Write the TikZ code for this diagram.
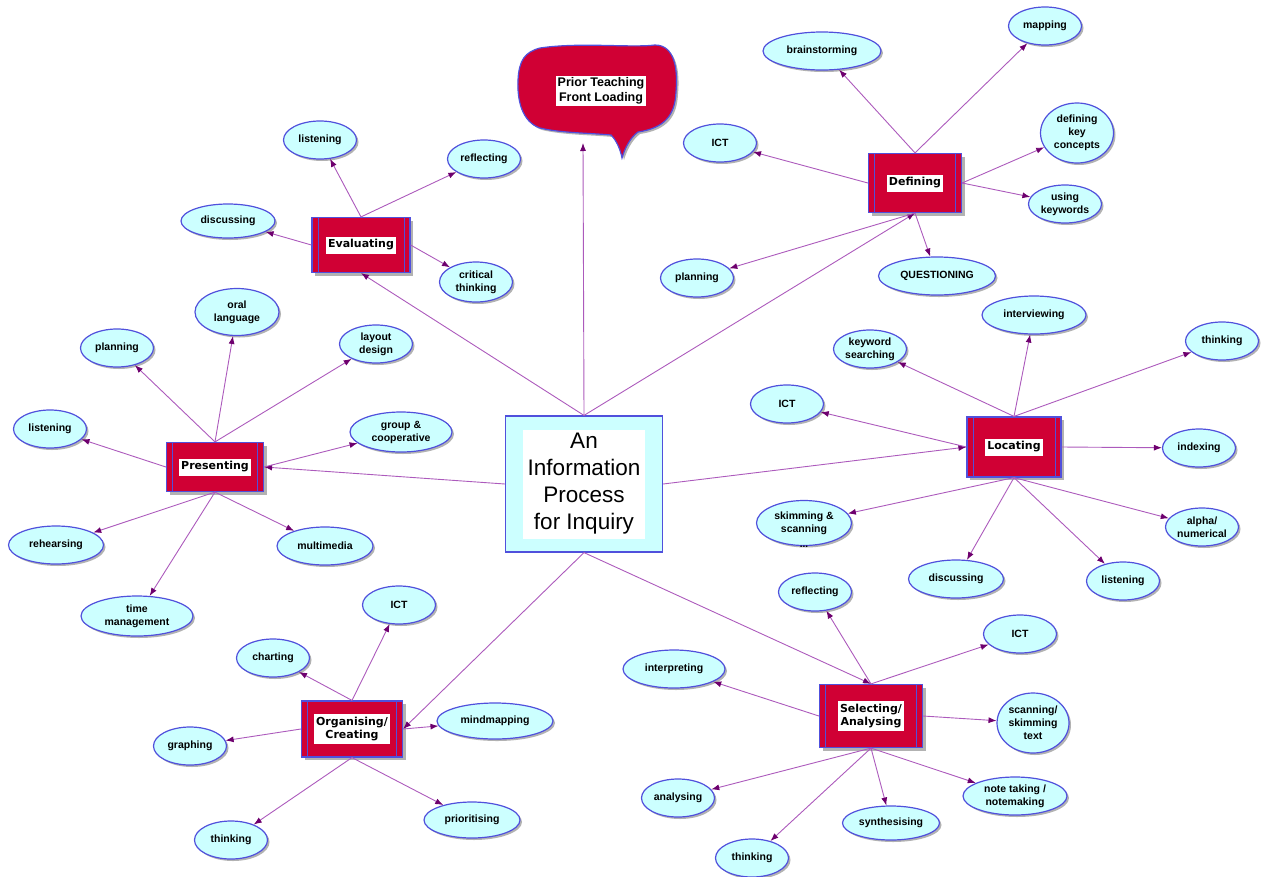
\documentclass[tikz,border=0pt]{standalone}
\usepackage{fontspec}
\setmainfont{Liberation Sans}
\newfontfamily\hubfont{DejaVu Sans}
\usetikzlibrary{arrows.meta,shapes.geometric,shadows}

\definecolor{hubred}{RGB}{208,0,52}
\definecolor{edgeblue}{RGB}{80,80,220}
\definecolor{leafcyan}{RGB}{204,255,255}
\definecolor{linkpurple}{RGB}{172,90,188}
\definecolor{tippurple}{RGB}{110,0,110}

\newcommand{\hubtext}[1]{{\setlength{\fboxsep}{2pt}\colorbox{white}{\hubfont\bfseries\fontsize{11}{13}\selectfont\begin{tabular}{@{}c@{}}#1\end{tabular}}}}

\begin{document}
\begin{tikzpicture}[x=1pt, y=-1pt,
  leaf/.style={ellipse, draw=edgeblue, line width=1.2pt, fill=leafcyan, minimum width=73pt, minimum height=38pt, inner sep=0pt, align=center, font=\bfseries\fontsize{10.5}{13}\selectfont, drop shadow={shadow xshift=2pt, shadow yshift=-2pt, fill=black!60, opacity=.5}},
  hub/.style={rectangle, draw=edgeblue, line width=1.2pt, fill=hubred, inner sep=0pt, drop shadow={shadow xshift=3pt, shadow yshift=-3pt, fill=black!60, opacity=.5},
    path picture={\draw [edgeblue, line width=1pt] ([xshift=6pt]path picture bounding box.north west) -- ([xshift=6pt]path picture bounding box.south west) ([xshift=-6pt]path picture bounding box.north east) -- ([xshift=-6pt]path picture bounding box.south east);}},
  link/.style={draw=linkpurple, line width=.9pt, -{Latex[length=8pt, width=6pt, color=tippurple]}}]
\useasboundingbox (0,0) rectangle (1261,876);

\node [draw=edgeblue, line width=1.2pt, fill=leafcyan, minimum width=157pt, minimum height=136pt, inner sep=0pt] (inquiry) at (584,484)
  {\setlength{\fboxsep}{3pt}\colorbox{white}{\parbox[c][103pt][c]{116pt}{\centering\fontsize{22.5}{27}\selectfont An\\Information\\Process\\for Inquiry}}};

\path [draw=edgeblue, fill=hubred, line width=1.2pt, drop shadow={shadow xshift=2pt, shadow yshift=-2pt, fill=black!60, opacity=.5}] (540,48)
  .. controls (580,42) and (630,48) .. (655,45)
  .. controls (675,45) and (678,70) .. (676,92)
  .. controls (675,115) and (665,128) .. (638,132)
  .. controls (630,138) and (625,148) .. (622,158)
  .. controls (620,148) and (616,140) .. (611,135)
  .. controls (590,133) and (560,133) .. (540,128)
  .. controls (522,122) and (517,100) .. (518,80)
  .. controls (519,60) and (525,52) .. (540,48) -- cycle;
\node [fill=white, inner sep=2pt, align=center, font=\bfseries\fontsize{12.5}{15}\selectfont] (prior) at (601,91) {Prior Teaching\\Front Loading};
\coordinate (priorfoot) at (583,143);

\node [hub, minimum width=93pt, minimum height=59pt] (defining) at (915,183) {\hubtext{Defining}};
\node [hub, minimum width=98pt, minimum height=55pt] (evaluating) at (361,245) {\hubtext{Evaluating}};
\node [hub, minimum width=97pt, minimum height=49pt] (presenting) at (215,467) {\hubtext{Presenting}};
\node [hub, minimum width=94pt, minimum height=60pt] (locating) at (1014,447) {\hubtext{Locating}};
\node [hub, minimum width=101pt, minimum height=56pt] (organising) at (352,729) {\hubtext{Organising/\\Creating}};
\node [hub, minimum width=103pt, minimum height=63pt] (selecting) at (871,716) {\hubtext{Selecting/\\Analysing}};

\node [leaf] (evlisten) at (320,140) {listening};
\node [leaf] (evreflect) at (484,159) {reflecting};
\node [leaf, minimum width=94pt, minimum height=34pt] (evdiscuss) at (228,221) {discussing};
\node [leaf, minimum height=40pt] (evcritical) at (476,282) {critical\\thinking};

\node [leaf, minimum width=118pt] (dfbrain) at (822,51) {brainstorming};
\node [leaf] (dfmap) at (1045,26) {mapping};
\node [leaf] (dfict) at (720,143) {ICT};
\node [leaf, minimum height=60pt] (dfkey) at (1077,133) {defining\\key\\concepts};
\node [leaf] (dfusing) at (1065,204) {using\\keywords};
\node [leaf] (dfplan) at (697,278) {planning};
\node [leaf, minimum width=117pt] (dfquest) at (937,276) {QUESTIONING};

\node [leaf, minimum width=84pt, minimum height=47pt] (proral) at (237,312) {oral\\language};
\node [leaf] (prplan) at (117,348) {planning};
\node [leaf] (prlayout) at (376,344) {layout\\design};
\node [leaf] (prlisten) at (50,429) {listening};
\node [leaf, minimum width=102pt, minimum height=40pt] (prgroup) at (401,432) {group \&\\cooperative};
\node [leaf, minimum width=95pt] (prrehearse) at (56,545) {rehearsing};
\node [leaf, minimum width=96pt] (prmulti) at (325,546) {multimedia};
\node [leaf, minimum width=112pt, minimum height=40pt] (prtime) at (137,616) {time\\management};

\node [leaf, minimum width=104pt] (lcinterview) at (1034,315) {interviewing};
\node [leaf] (lckey) at (870,349) {keyword\\searching};
\node [leaf] (lcthink) at (1222,341) {thinking};
\node [leaf] (lcict) at (787,404) {ICT};
\node [leaf] (lcindex) at (1199,448) {indexing};
\node [leaf, minimum width=95pt, minimum height=45pt, label={[font=\bfseries, inner sep=0pt, label distance=0pt]below:...}] (lcskim) at (804,523) {skimming \&\\scanning};
\node [leaf] (lcalpha) at (1202,527) {alpha/\\numerical};
\node [leaf, minimum width=95pt] (lcdiscuss) at (956,579) {discussing};
\node [leaf] (lclisten) at (1123,581) {listening};

\node [leaf] (slreflect) at (815,592) {reflecting};
\node [leaf] (slict) at (1020,634) {ICT};
\node [leaf, minimum width=102pt] (slinterp) at (674,669) {interpreting};
\node [leaf, minimum width=72pt, minimum height=60pt] (slscan) at (1033,723) {scanning/\\skimming\\text};
\node [leaf] (slanalyse) at (678,798) {analysing};
\node [leaf, minimum width=104pt] (slnote) at (1015,796) {note taking /\\notemaking};
\node [leaf, minimum width=97pt, minimum height=34pt] (slsynth) at (891,823) {synthesising};
\node [leaf] (slthink) at (752,858) {thinking};

\node [leaf] (orict) at (399,605) {ICT};
\node [leaf] (orchart) at (273,658) {charting};
\node [leaf, minimum width=116pt, minimum height=36pt] (ormind) at (495,721) {mindmapping};
\node [leaf] (orgraph) at (190,746) {graphing};
\node [leaf] (orthink) at (231,840) {thinking};
\node [leaf, minimum width=96pt, minimum height=36pt] (orprior) at (472,820) {prioritising};

\path [link] (inquiry.north) -- (evaluating.south);
\path [link] (inquiry.north) -- (priorfoot);
\path [link] (inquiry.north) -- (defining.south);
\path [link] (inquiry.west) -- (presenting.east);
\path [link] (inquiry.east) -- (locating.west);
\path [link] (inquiry.south) -- (organising.east);
\path [link] (inquiry.south) -- (selecting.north);

\foreach \from/\leaf in {evaluating.north/evlisten, evaluating.north/evreflect, evaluating.west/evdiscuss, evaluating.east/evcritical,
  defining.north/dfbrain, defining.north/dfmap, defining.west/dfict, defining.east/dfkey, defining.east/dfusing, defining.south/dfplan, defining.south/dfquest,
  presenting.north/proral, presenting.north/prplan, presenting.north/prlayout, presenting.west/prlisten, presenting.east/prgroup, presenting.south/prrehearse, presenting.south/prmulti, presenting.south/prtime,
  locating.north/lcinterview, locating.north/lckey, locating.north/lcthink, locating.west/lcict, locating.east/lcindex, locating.south/lcskim, locating.south/lcalpha, locating.south/lcdiscuss, locating.south/lclisten,
  selecting.north/slreflect, selecting.north/slict, selecting.west/slinterp, selecting.east/slscan, selecting.south/slanalyse, selecting.south/slnote, selecting.south/slsynth, selecting.south/slthink,
  organising.north/orict, organising.north/orchart, organising.east/ormind, organising.west/orgraph, organising.south/orthink, organising.south/orprior}
  \path [link] (\from) -- (\leaf);
\end{tikzpicture}
\end{document}
